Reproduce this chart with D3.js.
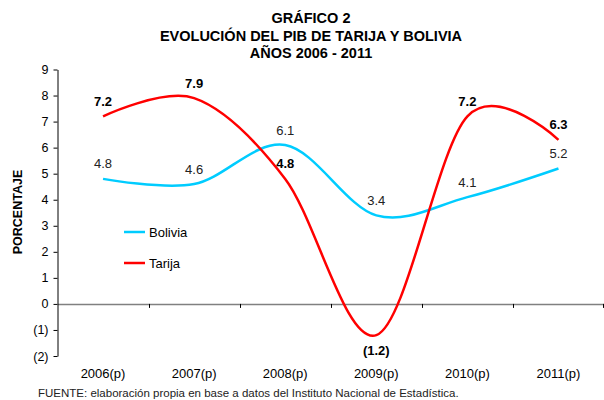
<!DOCTYPE html>
<html>
<head>
<meta charset="utf-8">
<script src="https://cdn.jsdelivr.net/npm/d3@7"></script>
<style>
  body { margin: 0; background: #fff; }
  text { font-family: "Liberation Sans", Arial, sans-serif; fill: #000; }
</style>
</head>
<body>
<script>
// Chart data
var years = ['2006(p)', '2007(p)', '2008(p)', '2009(p)', '2010(p)', '2011(p)'];
var bolivia = [4.8, 4.6, 6.1, 3.4, 4.1, 5.2];
var tarija = [7.2, 7.9, 4.8, -1.2, 7.2, 6.3];
var yTicks = [-2, -1, 0, 1, 2, 3, 4, 5, 6, 7, 8, 9];
var titleLines = ['GRÁFICO 2', 'EVOLUCIÓN DEL PIB DE TARIJA Y BOLIVIA', 'AÑOS 2006 - 2011'];

var width = 604, height = 400;

var svg = d3.select('body').append('svg')
    .attr('width', width)
    .attr('height', height);

// Scales
var xScale = d3.scaleBand().domain(years).range([57.5, 604]);
var yScale = d3.scaleLinear().domain([-2, 9]).range([356, 69.5]);
var xMid = function(d) { return xScale(d) + xScale.bandwidth() / 2; };

var fmt = function(v) { return v < 0 ? '(' + d3.format('.0f')(-v) + ')' : v; };
var fmtVal = function(v) { return v < 0 ? '(' + (-v).toFixed(1) + ')' : v.toFixed(1); };

// Title
svg.append('g').selectAll('text')
   .data(titleLines)
   .enter().append('text')
   .attr('x', 311)
   .attr('y', function(d, i) { return 23 + i * 17.5; })
   .attr('text-anchor', 'middle')
   .style('font-size', '14.5px')
   .style('font-weight', 'bold')
   .text(function(d) { return d; });

// Zero line with category ticks
svg.append('g')
   .attr('transform', 'translate(0,' + yScale(0) + ')')
   .call(d3.axisBottom(xScale).tickSize(0).tickFormat(''))
   .call(function(g) {
       g.select('.domain').attr('stroke', '#808080').attr('stroke-width', 1.5);
   });
svg.append('g').selectAll('line')
   .data(years.slice(1))
   .enter().append('line')
   .attr('x1', function(d) { return Math.round(xScale(d)) + 0.5; })
   .attr('x2', function(d) { return Math.round(xScale(d)) + 0.5; })
   .attr('y1', yScale(0))
   .attr('y2', yScale(0) + 4)
   .attr('stroke', '#000');
svg.append('line')
   .attr('x1', 603.5).attr('x2', 603.5)
   .attr('y1', yScale(0)).attr('y2', yScale(0) + 4)
   .attr('stroke', '#000');

// Y-axis
var yAxis = svg.append('g')
   .attr('transform', 'translate(57.5,0)')
   .call(d3.axisLeft(yScale).tickValues(yTicks).tickSize(4).tickSizeOuter(0).tickFormat(fmt));
yAxis.select('.domain').attr('stroke', '#000');
yAxis.selectAll('line').attr('stroke', '#000');
yAxis.selectAll('text')
   .attr('x', -9)
   .style('font-size', '12.5px')
   .style('font-family', '"Liberation Sans", Arial, sans-serif');

svg.append('text')
   .attr('transform', 'translate(22,212) rotate(-90)')
   .attr('text-anchor', 'middle')
   .style('font-size', '12.5px')
   .style('font-weight', 'bold')
   .text('PORCENTAJE');

// Category labels
svg.append('g').selectAll('text')
   .data(years)
   .enter().append('text')
   .attr('x', xMid)
   .attr('y', 378)
   .attr('text-anchor', 'middle')
   .style('font-size', '13px')
   .text(function(d) { return d; });

// Lines
var drawLine = d3.line()
    .x(function(d, i) { return xMid(years[i]); })
    .y(function(d) { return yScale(d); })
    .curve(d3.curveCardinal.tension(0));

svg.append('path')
   .attr('d', drawLine(bolivia))
   .attr('stroke', '#00CCFF')
   .attr('fill', 'none')
   .attr('stroke-width', 2.5);

svg.append('path')
   .attr('d', drawLine(tarija))
   .attr('stroke', '#FF0000')
   .attr('fill', 'none')
   .attr('stroke-width', 2.5);

// Data labels
svg.append('g').selectAll('text')
   .data(bolivia)
   .enter().append('text')
   .attr('x', function(d, i) { return xMid(years[i]); })
   .attr('y', function(d) { return yScale(d) - 10.5; })
   .attr('text-anchor', 'middle')
   .style('font-size', '13px')
   .style('fill', '#222')
   .text(fmtVal);

svg.append('g').selectAll('text')
   .data(tarija)
   .enter().append('text')
   .attr('x', function(d, i) { return xMid(years[i]); })
   .attr('y', function(d) { return d < 0 ? yScale(d) + 19.5 : yScale(d) - 10.5; })
   .attr('text-anchor', 'middle')
   .style('font-size', '13px')
   .style('font-weight', 'bold')
   .text(fmtVal);

// Legend
var legend = [['Bolivia', '#00CCFF'], ['Tarija', '#FF0000']];
var lg = svg.append('g').selectAll('g')
   .data(legend)
   .enter().append('g')
   .attr('transform', function(d, i) { return 'translate(124,' + (232 + i * 31) + ')'; });
lg.append('line')
   .attr('x1', 0).attr('x2', 21)
   .attr('stroke', function(d) { return d[1]; })
   .attr('stroke-width', 2.5);
lg.append('text')
   .attr('x', 25)
   .attr('y', 4.5)
   .style('font-size', '13px')
   .text(function(d) { return d[0]; });

// Source
svg.append('text')
   .attr('x', 38)
   .attr('y', 397)
   .style('font-size', '11.5px')
   .style('fill', '#222')
   .text('FUENTE: elaboración propia en base a datos del Instituto Nacional de Estadística.');
</script>
</body>
</html>
